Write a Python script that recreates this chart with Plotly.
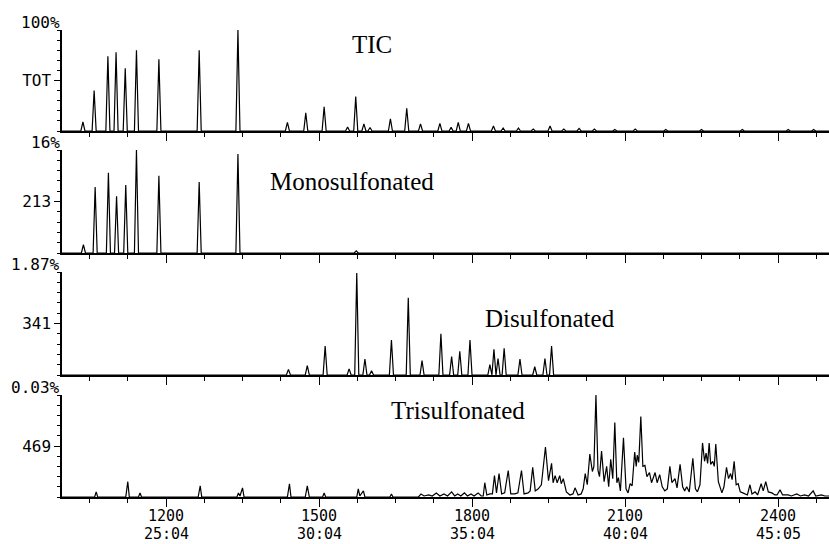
import plotly.graph_objects as go

# ---------------- data (scan number vs relative intensity, % of panel full scale) -------------
tic_peak_scan = [1037, 1059, 1086, 1102, 1120, 1142, 1186, 1265, 1341,
                 1438, 1474, 1510, 1556, 1572, 1588, 1600, 1640, 1672, 1699,
                 1737, 1759, 1773, 1793, 1842, 1861, 1891, 1920, 1953,
                 1980, 2010, 2040, 2080, 2120, 2180, 2250, 2330, 2420, 2470]
tic_peak_int = [9, 40, 74, 78, 62, 80, 71, 80, 100,
                8.6, 18, 24, 4, 34, 7, 3.5, 12, 22.5, 7,
                7.6, 3.6, 8.6, 7.6, 5, 3, 3, 2, 5,
                2, 2.5, 2, 1.5, 2, 1.5, 1.5, 1.5, 1.5, 1.5]

mono_peak_scan = [1038, 1061, 1087, 1103, 1121, 1142, 1186, 1265, 1341, 1573]
mono_peak_int = [8, 64, 78, 55, 66, 100, 75, 69, 96, 2]

di_peak_scan = [1440, 1477, 1512, 1559, 1574, 1590, 1603, 1642, 1675, 1702,
                1739, 1760, 1776, 1796, 1835, 1843, 1851, 1863, 1894, 1923,
                1943, 1956]
di_peak_int = [5.5, 9, 28, 6, 99, 15.5, 4, 34, 75, 14,
               40, 18, 23, 34, 10, 25, 16, 26, 15.5, 8,
               16, 28]

tri_scan = [996, 1060, 1063, 1066, 1121, 1125, 1128, 1146, 1149, 1152,
            1263, 1267, 1270, 1339, 1342, 1345, 1350, 1353, 1438, 1442, 1445,
            1473, 1477, 1481, 1507, 1510, 1513, 1574, 1577, 1580, 1587, 1590,
            1639, 1642, 1645, 1695, 1700, 1706, 1715, 1722, 1730, 1737, 1745,
            1752, 1760, 1766, 1772, 1778, 1785, 1791, 1798, 1804, 1812, 1818,
            1822, 1825, 1829, 1835, 1840, 1844, 1848, 1853, 1858, 1864, 1871,
            1876, 1884, 1890, 1897, 1902, 1910, 1914, 1919, 1924, 1930, 1936,
            1944, 1950, 1956, 1959, 1963, 1967, 1972, 1975, 1979, 1985, 1992,
            1998, 2002, 2008, 2014, 2018, 2022, 2026, 2031, 2036, 2039, 2043,
            2047, 2050, 2054, 2059, 2064, 2068, 2072, 2076, 2080, 2084, 2087,
            2091, 2097, 2102, 2106, 2110, 2114, 2119, 2122, 2124, 2127, 2131,
            2135, 2139, 2143, 2148, 2152, 2159, 2163, 2168, 2173, 2178, 2183,
            2188, 2192, 2198, 2202, 2208, 2213, 2217, 2221, 2226, 2233, 2238,
            2242, 2247, 2252, 2256, 2259, 2262, 2265, 2268, 2272, 2275, 2278,
            2283, 2290, 2294, 2299, 2303, 2307, 2310, 2314, 2318, 2322, 2326,
            2331, 2337, 2340, 2345, 2349, 2355, 2360, 2367, 2371, 2376, 2381,
            2388, 2394, 2398, 2404, 2409, 2415, 2420, 2426, 2437, 2444, 2452,
            2460, 2469, 2474, 2485, 2492, 2500]
tri_int = [0, 0, 5, 0, 0, 15, 0, 0, 4, 0,
           0, 11, 0, 0, 4, 1, 9, 0, 0, 13, 0,
           0, 11, 0, 0, 4, 0, 0, 8, 1, 6, 0,
           0, 3, 0, 0, 3, 1, 2, 1, 4, 1, 3,
           1, 5, 1, 3, 1, 4, 1, 3, 1, 4, 1,
           1, 14, 2, 3, 3, 21, 4, 23, 3, 4, 26,
           3, 3, 4, 26, 3, 4, 6, 29, 6, 8, 12,
           49, 16, 33, 14, 21, 14, 21, 13, 18, 5, 2,
           3, 9, 2, 3, 8, 23, 12, 42, 25, 30, 100,
           26, 20, 45, 15, 30, 10, 37, 18, 73, 14, 19,
           6, 58, 8, 4, 13, 11, 44, 30, 41, 34, 79,
           30, 31, 20, 24, 14, 24, 14, 22, 10, 6, 8,
           30, 14, 18, 9, 32, 10, 6, 10, 5, 38, 8,
           5, 12, 53, 35, 43, 33, 53, 32, 35, 30, 52,
           15, 4, 10, 29, 18, 23, 17, 35, 12, 13, 5,
           4, 3, 2, 12, 3, 5, 2, 13, 6, 15, 5,
           4, 2, 2, 7, 2, 2, 2, 1, 3, 1, 2,
           1, 6, 1, 2, 1, 1]

panel_names = ["TIC", "Monosulfonated", "Disulfonated", "Trisulfonated"]
panel_scale_top = ["100%", "16%", "1.87%", "0.03%"]
panel_mid_label = ["TOT", "213", "341", "469"]
x_tick_scans = [1200, 1500, 1800, 2100, 2400]
x_tick_times = ["25:04", "30:04", "35:04", "40:04", "45:05"]
scan_range = [996, 2500]

# ---------------- rendering helpers ----------------
PEAK_HW = 4  # half base width of a drawn peak, in scan units (style)


def peak_outline(scans, ints):
    xs, ys = [scan_range[0]], [0]
    for s, v in zip(scans, ints):
        xs += [s - PEAK_HW, s, s + PEAK_HW]
        ys += [0, v, 0]
    xs.append(scan_range[1])
    ys.append(0)
    return xs, ys


series = [peak_outline(tic_peak_scan, tic_peak_int),
          peak_outline(mono_peak_scan, mono_peak_int),
          peak_outline(di_peak_scan, di_peak_int),
          (tri_scan, tri_int)]

W, H = 829, 544
M_L, M_R, M_T, M_B = 62, 0, 30, 47
plot_h = H - M_T - M_B
# pixel rows (top, baseline) of each panel
panel_px = [(30, 131), (150, 253), (272, 375), (395, 497)]
domains = [[(H - M_B - b) / plot_h, (H - M_B - t) / plot_h] for t, b in panel_px]
domains[0][1] = min(domains[0][1], 1.0)
domains[3][0] = max(domains[3][0], 0.0)

fig = go.Figure()
tick_font = dict(family="DejaVu Sans Mono", size=16, color="black")
bottom_font = dict(family="DejaVu Sans Mono", size=15, color="black")

for i, (xs, ys) in enumerate(series):
    n = i + 1
    fig.add_trace(go.Scatter(x=xs, y=ys, mode="lines",
                             line=dict(color="black", width=1.2),
                             xaxis=f"x{n}", yaxis=f"y{n}", showlegend=False,
                             hoverinfo="skip"))
    xa = dict(range=scan_range, domain=[0, 1], anchor=f"y{n}",
              showline=True, linecolor="black", linewidth=2,
              showgrid=False, zeroline=False,
              tickmode="array", tickvals=x_tick_scans,
              ticks="outside", ticklen=8, tickwidth=1, tickcolor="black",
              minor=dict(tick0=1200, dtick=75, ticks="outside", ticklen=4,
                         tickcolor="black", tickwidth=1),
              showticklabels=False)
    if n > 1:
        xa["matches"] = "x"
    ya = dict(range=[0, 100], domain=domains[i], anchor=f"x{n}",
              showline=True, linecolor="black", linewidth=1.5,
              showgrid=False, zeroline=False,
              tickmode="array", tickvals=[50], ticktext=[panel_mid_label[i]],
              ticks="outside", ticklen=6, tickwidth=1, tickcolor="black",
              minor=dict(tick0=0, dtick=10, ticks="outside", ticklen=3,
                         tickcolor="black", tickwidth=1),
              tickfont=tick_font)
    key = "" if n == 1 else str(n)
    fig.layout["xaxis" + key] = xa
    fig.layout["yaxis" + key] = ya

annotations = []
# full-scale labels at the top-left of each panel
for i, lab in enumerate(panel_scale_top):
    annotations.append(dict(text=lab, xref="paper", x=0, xanchor="right",
                            yref="paper", y=domains[i][1], yanchor="middle",
                            yshift=8, showarrow=False, font=tick_font))
# scan number and time labels under the bottom axis
for s, t in zip(x_tick_scans, x_tick_times):
    annotations.append(dict(text=str(s), xref="x4", x=s, xanchor="center",
                            yref="paper", y=0, yanchor="middle", yshift=-19,
                            showarrow=False, font=bottom_font))
    annotations.append(dict(text=t, xref="x4", x=s, xanchor="center",
                            yref="paper", y=0, yanchor="middle", yshift=-37,
                            showarrow=False, font=bottom_font))
# panel titles
title_pos = [(1604, 86, "y"), (1565, 69, "y2"), (1953, 55, "y3"), (1772, 85, "y4")]
for (sx, sy, yr), name in zip(title_pos, panel_names):
    annotations.append(dict(text=name, xref="x" + yr[1:], x=sx, xanchor="center",
                            yref=yr, y=sy, yanchor="middle", showarrow=False,
                            font=dict(family="Liberation Serif", size=25,
                                      color="black")))

fig.update_layout(width=W, height=H,
                  margin=dict(l=M_L, r=M_R, t=M_T, b=M_B),
                  paper_bgcolor="white", plot_bgcolor="white",
                  annotations=annotations)

fig.write_html("out.html")
